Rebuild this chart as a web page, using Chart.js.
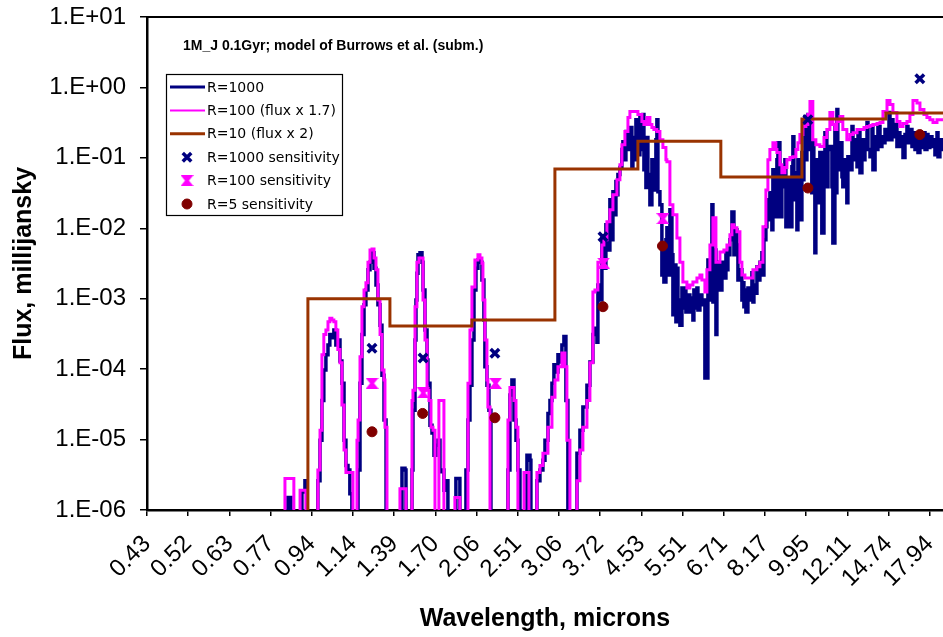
<!DOCTYPE html>
<html>
<head>
<meta charset="utf-8">
<script src="https://cdn.jsdelivr.net/npm/chart.js@4.4.1/dist/chart.umd.min.js"></script>
<style>
  html, body { margin: 0; padding: 0; background: #fff; overflow: hidden; }
  #wrap { width: 943px; height: 637px; }
</style>
</head>
<body>
<div id="wrap"><canvas id="fluxChart" width="943" height="637"></canvas></div>
<script>
// wavelength (microns) at the labelled category ticks, and the labels Excel printed
const xTickValues = [0.430, 0.523, 0.637, 0.775, 0.943, 1.148, 1.397, 1.700, 2.069, 2.518,
  3.064, 3.729, 4.538, 5.523, 6.722, 8.180, 9.955, 12.12, 14.75, 17.95];
const xTickLabels = ['0.43', '0.52', '0.63', '0.77', '0.94', '1.14', '1.39', '1.70', '2.06', '2.51',
  '3.06', '3.72', '4.53', '5.51', '6.71', '8.17', '9.95', '12.11', '14.74', '17.94'];
const yTickValues = [1e-6, 1e-5, 1e-4, 1e-3, 1e-2, 1e-1, 1, 10];
const yTickLabels = ['1.E-06', '1.E-05', '1.E-04', '1.E-03', '1.E-02', '1.E-01', '1.E+00', '1.E+01'];

const chartNote = '1M_J 0.1Gyr; model of Burrows et al. (subm.)';

// [wavelength, flux mJy]; 5e-7 = below the plotted range
const r1000 = [
  [0.810,5e-7],[0.838,5e-7],[0.842,1.5e-6],[0.850,1.5e-6],[0.854,5e-7],[0.892,5e-7],[0.900,1.8e-6],[0.913,2.6e-6],[0.922,5e-7],
  [0.948,5e-7],[0.962,5e-7],[0.971,2.6e-6],[0.981,9.8e-6],[0.990,3.6e-5],[0.999,9.7e-5],[1.009,1.6e-4],[1.019,2.2e-4],[1.028,3.1e-4],[1.038,2.8e-4],
  [1.048,3.6e-4],[1.058,2.2e-4],[1.068,2.6e-4],[1.079,1.3e-4],[1.089,6.3e-5],[1.100,9.8e-6],[1.110,4.3e-6],[1.121,3.7e-6],[1.131,1.7e-6],[1.142,5e-7],
  [1.165,5e-7],[1.176,3.7e-6],[1.187,6.3e-5],[1.198,3.1e-4],[1.210,8.2e-4],[1.221,1.33e-3],[1.233,2.57e-3],[1.245,3.3e-3],[1.257,4.5e-3],[1.269,2.7e-3],
  [1.281,1.57e-3],[1.293,8.2e-4],[1.306,4.2e-4],[1.318,8.2e-5],[1.331,1.9e-5],[1.344,5e-7],
  [1.402,5e-7],[1.443,5e-7],[1.450,3.9e-6],[1.471,3.7e-6],[1.478,5e-7],
  [1.499,5e-7],[1.521,3.7e-6],[1.528,2.6e-5],[1.543,2.6e-4],[1.550,9.6e-4],[1.557,2.3e-3],[1.565,4.2e-3],[1.580,4.5e-3],[1.595,3.3e-3],[1.603,1.33e-3],
  [1.618,3.6e-4],[1.634,1.35e-4],[1.641,6.3e-5],[1.657,1.6e-5],[1.673,1.24e-5],[1.689,6.0e-6],[1.705,8.3e-6],[1.721,9.8e-6],[1.738,3.5e-6],[1.754,3.7e-6],
  [1.771,1.9e-6],[1.788,2.6e-6],[1.805,5e-7],
  [1.840,5e-7],[1.875,2.8e-6],[1.902,2.8e-6],[1.911,5e-7],
  [1.939,5e-7],[1.967,3.7e-6],[1.986,1.9e-5],[2.005,5.9e-5],[2.024,2.6e-4],[2.044,1.33e-3],[2.063,2.7e-3],[2.083,3.56e-3],[2.103,3.3e-3],[2.123,1.85e-3],
  [2.143,5.0e-4],[2.153,1.08e-4],[2.174,5.9e-5],[2.195,2.6e-5],[2.216,5e-7],
  [2.369,5e-7],[2.403,3.7e-6],[2.426,4.3e-5],[2.449,7.0e-5],[2.473,1.9e-5],[2.497,9.8e-6],[2.520,3.7e-6],[2.545,5e-7],
  [2.606,5e-7],[2.631,6.0e-6],[2.669,5.1e-6],[2.681,5e-7],
  [2.720,5e-7],[2.759,2.6e-6],[2.799,3.7e-6],[2.839,5.1e-6],[2.867,9.8e-6],[2.908,2.35e-5],[2.936,3.6e-5],[2.964,6.3e-5],[2.992,1.15e-4],[3.021,9.1e-5],
  [3.050,1.6e-4],[3.079,1.26e-4],[3.108,2.2e-4],[3.138,2.9e-4],[3.168,3.6e-5],[3.198,5e-7],
  [3.291,5e-7],[3.339,6.4e-6],[3.387,1.36e-5],[3.435,2.9e-5],[3.502,5.9e-5],[3.552,1.26e-4],[3.603,3.1e-4],[3.638,3.8e-4],[3.673,2.4e-4],[3.690,1.57e-3],
  [3.725,9.6e-4],[3.761,7.3e-3],[3.797,2.7e-3],[3.833,1.12e-2],[3.870,4.9e-3],[3.907,2.54e-2],[3.945,6.9e-3],[3.964,0.033],[3.983,0.0156],[4.021,0.046],
  [4.040,0.030],[4.059,0.058],[4.098,0.073],[4.137,0.131],[4.157,0.169],[4.177,0.094],[4.217,0.236],[4.258,0.131],[4.298,0.269],[4.339,0.073],
  [4.360,0.194],[4.381,0.094],[4.423,0.349],[4.465,0.111],[4.508,0.373],[4.551,0.131],[4.573,0.412],[4.595,0.068],[4.639,0.038],[4.661,0.194],
  [4.683,0.058],[4.728,0.0216],[4.773,0.094],[4.819,0.035],[4.865,0.181],[4.888,0.349],[4.912,0.033],[4.959,0.0216],[5.006,2.18e-3],[5.030,5.8e-3],
  [5.054,1.73e-3],[5.103,6.9e-3],[5.127,0.0102],[5.152,2.18e-3],[5.201,0.0183],[5.251,4.2e-3],[5.276,5.9e-4],[5.301,3.0e-3],[5.352,4.7e-4],[5.378,2.7e-3],
  [5.404,9.6e-4],[5.455,4.2e-4],[5.508,1.42e-3],[5.560,7.4e-4],[5.587,1.42e-3],[5.613,6.5e-4],[5.667,1.13e-3],[5.721,6.5e-4],[5.776,1.02e-3],[5.804,5.0e-4],
  [5.831,1.33e-3],[5.887,7.4e-4],[5.916,1.42e-3],[5.944,6.9e-4],[6.001,1.13e-3],[6.058,8.2e-4],[6.116,9.6e-4],[6.145,7.5e-5],[6.175,9.6e-4],[6.204,7.5e-5],
  [6.234,3.56e-3],[6.294,9.6e-4],[6.354,0.0216],[6.385,9.0e-4],[6.415,4.9e-3],[6.477,3.1e-4],[6.507,2.18e-3],[6.538,3.3e-3],[6.602,1.33e-3],[6.665,3.3e-3],
  [6.728,1.97e-3],[6.793,4.6e-3],[6.826,2.57e-3],[6.858,4.2e-3],[6.924,6.9e-3],[6.990,0.0171],[7.057,4.2e-3],[7.125,9.5e-3],[7.158,5.8e-3],[7.193,1.85e-3],
  [7.262,2.57e-3],[7.331,9.6e-4],[7.366,1.68e-3],[7.401,7.7e-4],[7.437,1.33e-3],[7.472,6.5e-4],[7.544,1.42e-3],[7.616,9.6e-4],[7.689,2.33e-3],[7.726,9.0e-4],
  [7.763,1.57e-3],[7.838,1.2e-3],[7.875,2.84e-3],[7.912,1.85e-3],[7.988,3.3e-3],[8.065,4.5e-3],[8.104,2.18e-3],[8.142,6.9e-3],[8.219,0.0105],[8.259,0.0254],
  [8.298,0.0132],[8.377,0.032],[8.457,9.5e-3],[8.498,0.068],[8.538,0.0156],[8.620,0.0146],[8.662,0.094],[8.703,0.164],[8.786,0.0146],[8.870,0.075],
  [8.955,0.039],[8.998,0.094],[9.041,0.0105],[9.128,0.049],[9.216,0.0105],[9.304,0.075],[9.348,0.20],[9.393,0.0254],[9.483,0.0616],[9.528,9.5e-3],
  [9.574,0.094],[9.665,0.0132],[9.758,0.119],[9.805,0.049],[9.852,0.094],[9.899,0.385],[9.945,0.094],[9.993,0.181],[10.04,0.412],[10.14,0.131],
  [10.23,0.032],[10.28,0.164],[10.33,0.049],[10.38,4.5e-3],[10.43,0.094],[10.53,0.0231],[10.63,0.119],[10.73,8.6e-3],[10.84,0.075],[10.89,0.228],
  [10.99,0.039],[11.05,0.131],[11.15,0.145],[11.26,0.039],[11.31,6.2e-3],[11.42,0.278],[11.48,0.032],[11.53,0.485],[11.58,0.068],[11.70,0.164],
  [11.81,0.054],[11.86,0.039],[11.98,0.094],[12.09,0.0231],[12.15,0.104],[12.27,0.068],[12.39,0.278],[12.45,0.094],[12.57,0.181],[12.69,0.075],
  [12.75,0.228],[12.87,0.0616],[12.99,0.181],[13.12,0.094],[13.18,0.145],[13.31,0.317],[13.37,0.131],[13.50,0.104],[13.63,0.278],[13.69,0.068],
  [13.83,0.20],[13.96,0.131],[14.02,0.278],[14.16,0.145],[14.29,0.20],[14.36,0.164],[14.50,0.252],[14.64,0.181],[14.78,0.44],[14.85,0.181],
  [14.99,0.349],[15.06,0.20],[15.21,0.297],[15.35,0.145],[15.43,0.228],[15.57,0.145],[15.72,0.20],[15.80,0.101],[15.95,0.214],[16.10,0.278],
  [16.18,0.164],[16.33,0.252],[16.49,0.145],[16.57,0.228],[16.73,0.131],[16.89,0.20],[16.97,0.119],[17.13,0.181],[17.30,0.140],[17.46,0.228],
  [17.55,0.131],[17.71,0.214],[17.80,0.140],[17.96,0.20],[18.14,0.145],[18.23,0.181],[18.40,0.111],[18.58,0.228],[18.67,0.104],[18.84,0.181],
  [19.03,0.131],[19.30,0.169]
];

const r100 = [
  [0.818,5e-7],[0.830,2.8e-6],[0.862,2.8e-6],[0.866,5e-7],[0.887,5e-7],[0.892,1.9e-6],[0.913,1.9e-6],[0.917,5e-7],
  [0.962,5e-7],[0.971,3.7e-6],[0.981,1.36e-5],[0.990,1.6e-4],[0.999,3.1e-4],[1.009,3.6e-4],[1.019,4.7e-4],[1.028,5.3e-4],[1.038,5.0e-4],[1.048,4.7e-4],
  [1.058,3.6e-4],[1.068,1.9e-4],[1.079,1.23e-4],[1.089,3.1e-5],[1.100,7.1e-6],[1.110,3.4e-6],[1.142,3.4e-6],[1.148,5e-7],
  [1.165,5e-7],[1.170,9.8e-6],[1.176,1.9e-5],[1.187,1.5e-4],[1.198,7.7e-4],[1.210,1.33e-3],[1.221,1.68e-3],[1.233,3.3e-3],[1.245,4.9e-3],[1.257,5.1e-3],
  [1.269,3.8e-3],[1.281,2.57e-3],[1.293,9.6e-4],[1.306,3.1e-4],[1.318,9.7e-5],[1.331,7.0e-5],[1.337,1.5e-5],[1.350,5e-7],
  [1.423,5e-7],[1.436,2.0e-6],[1.471,2.0e-6],[1.478,5e-7],
  [1.506,5e-7],[1.521,3.6e-5],[1.528,5.0e-5],[1.543,7.7e-4],[1.557,3.3e-3],[1.572,3.8e-3],[1.587,3.8e-3],[1.603,9.6e-4],[1.618,2.6e-4],[1.634,5.0e-5],
  [1.649,3.6e-5],[1.665,1.5e-5],[1.681,1.36e-5],[1.697,5e-7],[1.721,5e-7],[1.729,3.6e-5],[1.763,3.6e-5],[1.771,5e-7],
  [1.840,5e-7],[1.866,1.5e-6],[1.902,1.5e-6],[1.911,5e-7],
  [1.958,5e-7],[1.986,6.3e-5],[2.005,3.6e-4],[2.024,1.47e-3],[2.053,3.56e-3],[2.083,4.2e-3],[2.103,3.8e-3],[2.123,3.2e-3],[2.133,9.6e-4],[2.153,2.6e-4],
  [2.174,7.0e-5],[2.184,2.9e-5],[2.206,5e-7],
  [2.369,5e-7],[2.403,1.9e-5],[2.426,5.5e-5],[2.473,3.6e-5],[2.497,1.5e-5],[2.520,5e-7],
  [2.569,5e-7],[2.594,3.4e-6],[2.643,3.4e-6],[2.656,5e-7],
  [2.720,5e-7],[2.759,3.4e-6],[2.799,4.3e-6],[2.839,6.4e-6],[2.908,1.5e-5],[2.964,4.0e-5],[3.007,7.0e-5],[3.050,1.08e-4],[3.108,1.7e-4],[3.153,1.08e-4],
  [3.183,9.8e-6],[3.229,5e-7],
  [3.291,5e-7],[3.339,2.6e-6],[3.387,7.1e-6],[3.435,1.5e-5],[3.502,3.6e-5],[3.552,1.23e-4],[3.603,1.25e-3],[3.638,1.33e-3],[3.690,3.3e-3],[3.725,3.3e-3],
  [3.761,5.8e-3],[3.797,6.9e-3],[3.852,0.0124],[3.907,0.0183],[3.964,0.030],[4.040,0.049],[4.098,0.080],[4.137,0.154],[4.197,0.236],[4.258,0.373],
  [4.298,0.455],[4.360,0.455],[4.423,0.455],[4.465,0.412],[4.551,0.327],[4.595,0.297],[4.661,0.373],[4.728,0.297],[4.773,0.269],[4.819,0.252],
  [4.888,0.236],[4.959,0.181],[5.030,0.140],[5.103,0.094],[5.127,0.088],[5.201,0.0216],[5.276,0.0156],[5.378,7.3e-3],[5.455,3.3e-3],[5.533,1.73e-3],
  [5.640,1.42e-3],[5.721,1.57e-3],[5.804,1.73e-3],[5.916,1.97e-3],[6.001,2.18e-3],[6.058,1.85e-3],[6.145,1.25e-3],[6.204,2.57e-3],[6.294,5.8e-3],[6.385,0.0141],
  [6.477,3.3e-3],[6.602,4.6e-3],[6.728,4.9e-3],[6.826,5.8e-3],[6.924,8.1e-3],[6.990,0.0112],[7.057,0.0102],[7.158,8.9e-3],[7.262,3.3e-3],[7.331,2.18e-3],
  [7.437,1.97e-3],[7.616,1.97e-3],[7.726,2.57e-3],[7.875,2.84e-3],[7.988,3.3e-3],[8.104,0.0105],[8.219,0.035],[8.298,0.094],[8.377,0.131],[8.498,0.164],
  [8.620,0.131],[8.662,0.119],[8.786,0.080],[8.870,0.0616],[8.998,0.073],[9.085,0.094],[9.216,0.101],[9.348,0.104],[9.483,0.131],[9.574,0.164],
  [9.665,0.214],[9.805,0.278],[9.945,0.297],[10.04,0.412],[10.14,0.63],[10.23,0.63],[10.28,0.181],[10.43,0.154],[10.63,0.145],[10.84,0.194],
  [10.99,0.252],[11.15,0.44],[11.31,0.297],[11.42,0.252],[11.53,0.327],[11.70,0.385],[11.86,0.252],[12.09,0.181],[12.27,0.214],[12.45,0.228],
  [12.69,0.252],[13.12,0.269],[13.31,0.278],[13.50,0.288],[13.69,0.297],[13.96,0.307],[14.16,0.317],[14.36,0.455],[14.64,0.65],[14.85,0.571],
  [15.06,0.44],[15.35,0.327],[15.57,0.278],[15.80,0.307],[16.10,0.327],[16.33,0.412],[16.57,0.65],[16.89,0.60],[17.13,0.485],[17.46,0.412],
  [17.71,0.373],[17.96,0.349],[18.23,0.317],[18.58,0.349],[19.30,0.373]
];

// R=10 bins: left edge wavelength and flux (x2)
const r10 = [[0.926,5e-7],[0.926,1.0e-3],[1.369,4.1e-4],[2.024,5.0e-4],[3.006,0.0695],[4.465,0.172],
  [6.63,0.0535],[9.76,0.357],[14.56,0.435],[21.0,0.435]];

const sens1000 = [[1.257,1.98e-4],[1.603,1.44e-4],[2.258,1.68e-4],[3.78,7.6e-3],[10.04,0.349],[17.12,1.33]];
const sens100 = [[1.257,6.3e-5],[1.605,4.6e-5],[2.265,6.3e-5],[3.79,3.2e-3],[5.03,0.0137]];
const sens5 = [[1.257,1.29e-5],[1.60,2.35e-5],[2.258,2.04e-5],[3.78,7.7e-4],[5.02,5.6e-3],[10.04,0.0373],[17.12,0.214]];

document.addEventListener('DOMContentLoaded', function() {

    const font = 'Liberation Sans';
    const toXY = arr => arr.map(p => ({ x: p[0], y: p[1] }));

    // Excel-like hourglass marker for the R=100 sensitivity
    const hourglass = document.createElement('canvas');
    hourglass.width = 13;
    hourglass.height = 11;
    const hg = hourglass.getContext('2d');
    hg.fillStyle = '#ff00ff';
    hg.beginPath();
    hg.moveTo(0, 0); hg.lineTo(13, 0); hg.lineTo(8.5, 5.5); hg.lineTo(13, 11);
    hg.lineTo(0, 11); hg.lineTo(4.5, 5.5); hg.closePath();
    hg.fill();

    const boxLegend = {
        id: 'boxLegend',
        afterDraw(chart) {
            const ctx = chart.ctx;
            const area = chart.chartArea;
            ctx.save();
            // plot area frame (top edge)
            ctx.strokeStyle = '#000';
            ctx.lineWidth = 2;
            ctx.beginPath();
            ctx.moveTo(area.left, area.top);
            ctx.lineTo(area.right + 2, area.top);
            ctx.stroke();

            ctx.fillStyle = '#000';
            ctx.textBaseline = 'middle';
            ctx.font = 'bold 14px "' + font + '"';
            ctx.fillText(chartNote, 183, 46);

            ctx.fillStyle = '#fff';
            ctx.fillRect(166.5, 74.5, 176, 141);
            ctx.lineWidth = 1.2;
            ctx.strokeRect(166.5, 74.5, 176, 141);

            ctx.font = '14px "DejaVu Sans"';
            chart.data.datasets.forEach(function(ds, i) {
                const y = 87 + i * 23.4;
                if (ds.showLine === false) {
                    ctx.fillStyle = ds.pointBackgroundColor;
                    ctx.strokeStyle = ds.pointBorderColor;
                    ctx.lineWidth = ds.pointBorderWidth;
                    Chart.helpers.drawPoint(ctx, {
                        pointStyle: ds.pointStyle,
                        radius: ds.pointRadius,
                        borderWidth: ds.pointBorderWidth,
                        rotation: 0
                    }, 187, y);
                } else {
                    ctx.strokeStyle = ds.borderColor;
                    ctx.lineWidth = ds.legendWidth;
                    ctx.beginPath();
                    ctx.moveTo(170, y);
                    ctx.lineTo(205, y);
                    ctx.stroke();
                }
                ctx.fillStyle = '#000';
                ctx.fillText(ds.label, 207, y + 1);
            });
            ctx.restore();
        }
    };

    new Chart(document.getElementById('fluxChart'), {
        type: 'line',
        data: {
            datasets: [{
                label: 'R=1000',
                data: toXY(r1000),
                borderColor: '#000080',
                borderWidth: 3.5,
                legendWidth: 3,
                pointRadius: 0,
                stepped: 'before',
                order: 5
            }, {
                label: 'R=100 (flux x 1.7)',
                data: toXY(r100),
                borderColor: '#ff00ff',
                borderWidth: 3,
                legendWidth: 2,
                pointRadius: 0,
                stepped: 'before',
                order: 4
            }, {
                label: 'R=10 (flux x 2)',
                data: toXY(r10),
                borderColor: '#993300',
                borderWidth: 3,
                legendWidth: 3,
                pointRadius: 0,
                stepped: 'before',
                order: 3
            }, {
                label: 'R=1000 sensitivity',
                data: toXY(sens1000),
                showLine: false,
                pointStyle: 'crossRot',
                pointRadius: 6,
                pointBorderWidth: 3.5,
                pointBorderColor: '#000080',
                pointBackgroundColor: '#000080',
                order: 2
            }, {
                label: 'R=100 sensitivity',
                data: toXY(sens100),
                showLine: false,
                pointStyle: hourglass,
                pointRadius: 6,
                pointBorderWidth: 0,
                pointBorderColor: '#ff00ff',
                pointBackgroundColor: '#ff00ff',
                order: 1
            }, {
                label: 'R=5 sensitivity',
                data: toXY(sens5),
                showLine: false,
                pointStyle: 'circle',
                pointRadius: 5,
                pointBorderWidth: 1,
                pointBorderColor: '#800000',
                pointBackgroundColor: '#800000',
                order: 0
            }]
        },
        options: {
            responsive: false,
            animation: false,
            events: [],
            layout: { autoPadding: false, padding: { top: 17, right: 0, bottom: 0, left: 0 } },
            scales: {
                x: {
                    type: 'logarithmic',
                    min: 0.43,
                    max: 19.12,
                    bounds: 'data',
                    afterBuildTicks: function(scale) {
                        scale.ticks = xTickValues.map(v => ({ value: v }));
                    },
                    afterFit: function(scale) {
                        scale.height = 127;
                        scale.paddingLeft = 0;
                        scale.paddingRight = 0;
                    },
                    grid: { drawOnChartArea: false, color: '#000', lineWidth: 1.5, tickLength: 6 },
                    border: { color: '#000', width: 2.5 },
                    ticks: {
                        autoSkip: false,
                        minRotation: 45,
                        maxRotation: 45,
                        padding: 14,
                        color: '#000',
                        font: { family: font, size: 24 },
                        callback: function(value, index) { return xTickLabels[index]; }
                    },
                    title: {
                        display: true,
                        text: 'Wavelength, microns',
                        color: '#000',
                        font: { family: font, size: 25, weight: 'bold' },
                        padding: { top: 0, bottom: 3 }
                    }
                },
                y: {
                    type: 'logarithmic',
                    min: 1e-6,
                    max: 10,
                    bounds: 'data',
                    afterBuildTicks: function(scale) {
                        scale.ticks = yTickValues.map(v => ({ value: v }));
                    },
                    afterFit: function(scale) {
                        scale.width = 147;
                        scale.paddingTop = 0;
                        scale.paddingBottom = 0;
                    },
                    grid: { drawOnChartArea: false, color: '#000', lineWidth: 1.5, tickLength: 7 },
                    border: { color: '#000', width: 2.5 },
                    ticks: {
                        padding: 14,
                        color: '#000',
                        font: { family: font, size: 24 },
                        callback: function(value, index) { return yTickLabels[index]; }
                    },
                    title: {
                        display: true,
                        text: 'Flux, millijansky',
                        color: '#000',
                        font: { family: font, size: 25, weight: 'bold' },
                        padding: { top: 9, bottom: 0 }
                    }
                }
            },
            plugins: {
                legend: { display: false },
                tooltip: { enabled: false }
            }
        },
        plugins: [boxLegend]
    });
});
</script>
</body>
</html>
